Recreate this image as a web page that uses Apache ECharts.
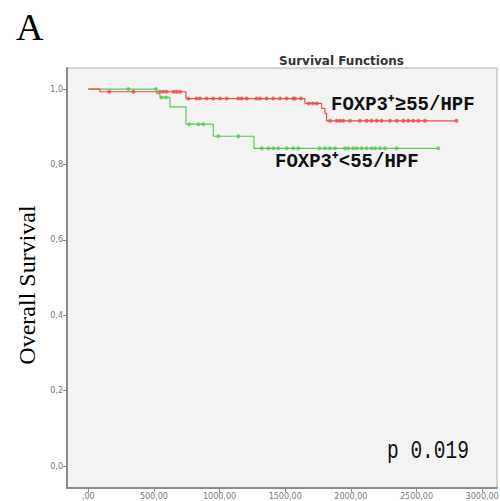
<!DOCTYPE html>
<html>
<head>
<meta charset="utf-8">
<script src="https://cdn.jsdelivr.net/npm/echarts@6/dist/echarts.min.js"></script>
<style>
  html, body { margin: 0; padding: 0; background: #fff; }
  #main { width: 500px; height: 501px; }
</style>
</head>
<body>
<div id="main"></div>
<script>
// survival steps (time in days, cumulative survival)
var highTimes = [0, 89, 744, 1650, 1777, 1803, 1815, 2805];
var highSurv = [1.0, 0.993, 0.975, 0.962, 0.949, 0.935, 0.916, 0.916];
var lowTimes = [0, 521, 546, 622, 744, 952, 1262, 2666];
var lowSurv = [1.0, 0.988, 0.978, 0.953, 0.907, 0.875, 0.843, 0.843];

// censored cases
var highCensor = [160, 343, 546, 571, 597, 648, 673, 698,
  762, 825, 851, 901, 952, 1003, 1054, 1143, 1168, 1206, 1282, 1308, 1358, 1409, 1460, 1511, 1561, 1574, 1620,
  1680, 1710, 1740,
  1841, 1892, 1917, 1942, 1993, 2069, 2120, 2158, 2196, 2234, 2298, 2349, 2399, 2437, 2475, 2514, 2564, 2805];
var lowCensor = [305, 515, 559, 592,
  769, 838, 876, 990, 1143,
  1320, 1371, 1409, 1447, 1511, 1561, 1600, 1760, 1803, 1841, 1879, 1955, 1980, 2018, 2044, 2082, 2120, 2158,
  2184, 2222, 2260, 2349, 2666];

var xTicks = [0, 500, 1000, 1500, 2000, 2500, 3000];
var xTickLabels = [',00', '500,00', '1000,00', '1500,00', '2000,00', '2500,00', '3000,00'];
var yTicks = [0, 0.2, 0.4, 0.6, 0.8, 1.0];
var yTickLabels = ['0,0', '0,2', '0,4', '0,6', '0,8', '1,0'];

function pairs(t, s) {
  var out = [];
  for (var i = 0; i < t.length; i++) out.push([t[i], s[i]]);
  return out;
}
// survival value at a censor time = level of the step it sits on
function censorPoints(c, t, s) {
  var out = [];
  for (var i = 0; i < c.length; i++) {
    var v = s[0];
    for (var j = 0; j < t.length; j++) {
      if (t[j] <= c[i]) v = s[j];
    }
    out.push([c[i], v]);
  }
  return out;
}

var red = '#ee4b4b';
var green = '#5cc85c';

var chart = echarts.init(document.getElementById('main'), null, { renderer: 'svg' });

var option = {
  backgroundColor: '#fff',
  animation: false,
  grid: {
    left: 67, top: 68, right: 3, bottom: 13,
    outerBoundsMode: 'none',
    containLabel: false,
    show: true,
    backgroundColor: '#f3f3f3',
    borderColor: '#b0b0b0',
    borderWidth: 1
  },
  xAxis: {
    type: 'value',
    min: -162, max: 3113,
    splitLine: { show: false },
    axisLine: { show: true, onZero: false, lineStyle: { color: '#8c8c8c', width: 2 } },
    axisTick: { show: true, length: 4, customValues: xTicks, lineStyle: { color: '#888' } },
    axisLabel: {
      customValues: xTicks,
      margin: 4,
      fontSize: 8,
      color: '#777',
      fontFamily: 'DejaVu Sans',
      formatter: function (v) { return xTickLabels[xTicks.indexOf(v)]; }
    }
  },
  yAxis: {
    type: 'value',
    min: -0.058, max: 1.056,
    splitLine: { show: false },
    axisLine: { show: true, onZero: false, lineStyle: { color: '#8c8c8c', width: 2 } },
    axisTick: { show: true, length: 4, customValues: yTicks, lineStyle: { color: '#888' } },
    axisLabel: {
      customValues: yTicks,
      margin: 4,
      fontSize: 8,
      color: '#777',
      fontFamily: 'DejaVu Sans',
      formatter: function (v) {
        for (var i = 0; i < yTicks.length; i++) if (Math.abs(yTicks[i] - v) < 1e-6) return yTickLabels[i];
        return '';
      }
    }
  },
  title: [
    { text: 'Survival Functions', left: 274, top: 50,
      textStyle: { fontSize: 12, fontWeight: 'bold', color: '#333', fontFamily: 'DejaVu Sans' } }
  ],
  graphic: [
    { type: 'text', left: 16, top: 8,
      style: { text: 'A', font: '38px "Liberation Serif"', fill: '#000' } },
    { type: 'text', x: 39, y: 285, rotation: Math.PI / 2,
      style: { text: 'Overall Survival', font: '24px "Liberation Serif"', fill: '#000', align: 'center', verticalAlign: 'bottom' } },
    { type: 'text', x: 331, y: 105, scaleX: 0.95,
      style: { text: 'FOXP3\u207A\u226555/HPF', font: 'bold 20px "Liberation Mono"', fill: '#111', verticalAlign: 'middle' } },
    { type: 'text', x: 275, y: 162, scaleX: 0.95,
      style: { text: 'FOXP3\u207A<55/HPF', font: 'bold 20px "Liberation Mono"', fill: '#111', verticalAlign: 'middle' } },
    { type: 'text', x: 387, y: 451, scaleX: 0.78,
      style: { text: 'p 0.019', font: '25px "Liberation Mono"', fill: '#111', verticalAlign: 'middle' } }
  ],
  series: [
    {
      type: 'line', step: 'end', showSymbol: false,
      data: pairs(lowTimes, lowSurv),
      lineStyle: { color: green, width: 1.2 }
    },
    {
      type: 'line', step: 'end', showSymbol: false,
      data: pairs(highTimes, highSurv),
      lineStyle: { color: red, width: 1.2 }
    },
    {
      type: 'scatter', symbol: 'circle', symbolSize: 4,
      data: censorPoints(lowCensor, lowTimes, lowSurv),
      itemStyle: { color: green }
    },
    {
      type: 'scatter', symbol: 'circle', symbolSize: 4,
      data: censorPoints(highCensor, highTimes, highSurv),
      itemStyle: { color: red }
    }
  ]
};
chart.setOption(option);
</script>
</body>
</html>
